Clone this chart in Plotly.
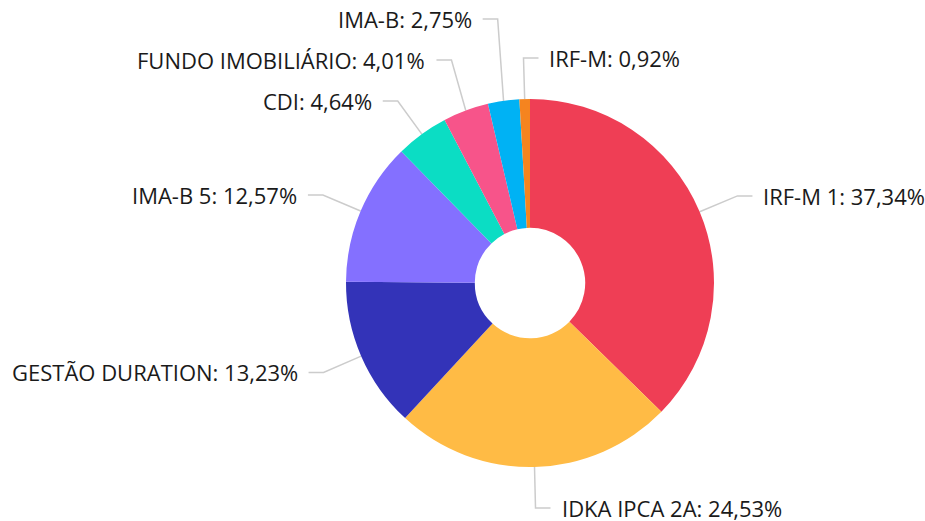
import math
import plotly.graph_objects as go

labels = ["IRF-M 1", "IDKA IPCA 2A", "GESTÃO DURATION", "IMA-B 5", "CDI",
          "FUNDO IMOBILIÁRIO", "IMA-B", "IRF-M"]
values = [37.34, 24.53, 13.23, 12.57, 4.64, 4.01, 2.75, 0.92]
colors = ["#EF3E55", "#FFBB45", "#3333B8", "#8470FF", "#0BDDC4",
          "#F7548A", "#00B2F4", "#F5841F"]

W, H = 925, 521
CX, CY, R = 530, 283, 184
HOLE = 0.30
BEND_R = R + 41
TICK = 15
GAP = 9
MIN_SPACING = 41
FONT = "Open Sans"
FSIZE = 22
LINE_COLOR = "#cccccc"


def fmt(v):
    return f"{v:.2f}".replace(".", ",") + "%"


def px(x):
    return x / W


def py(y):
    return 1 - y / H


fig = go.Figure()
fig.add_trace(go.Pie(
    labels=labels, values=values, sort=False, direction="clockwise",
    rotation=0, hole=HOLE, textinfo="none", hoverinfo="label+percent",
    marker=dict(colors=colors, line=dict(width=0)),
    domain=dict(x=[(CX - R) / W, (CX + R) / W], y=[1 - (CY + R) / H, 1 - (CY - R) / H]),
    showlegend=False,
))

total = sum(values)
items = []
cum = 0.0
for lab, v in zip(labels, values):
    mid = (cum + v / 2) / total * 2 * math.pi
    cum += v
    s, c = math.sin(mid), math.cos(mid)
    ex, ey = CX + R * s, CY - R * c
    bx, by = CX + BEND_R * s, CY - BEND_R * c
    side = "right" if s >= -0.05 else "left"
    items.append(dict(label=lab, v=v, ex=ex, ey=ey, bx=bx, by=by, side=side))

# resolve overlaps per side (push upward from bottom)
for side in ("left", "right"):
    grp = sorted([it for it in items if it["side"] == side], key=lambda d: -d["by"])
    prev = None
    for it in grp:
        if prev is not None and it["by"] > prev - MIN_SPACING:
            it["by"] = prev - MIN_SPACING
        prev = it["by"]

for it in items:
    sgn = 1 if it["side"] == "right" else -1
    x2 = it["bx"] + sgn * TICK
    fig.add_shape(type="path", xref="paper", yref="paper", layer="below",
                  path=f"M {px(it['ex'])} {py(it['ey'])} L {px(it['bx'])} {py(it['by'])} L {px(x2)} {py(it['by'])}",
                  line=dict(color=LINE_COLOR, width=1.5))
    fig.add_annotation(x=px(x2 + sgn * GAP), y=py(it["by"]), xref="paper", yref="paper",
                       text=f"{it['label']}: {fmt(it['v'])}", showarrow=False,
                       xanchor="left" if sgn > 0 else "right", yanchor="middle",
                       font=dict(family=FONT, size=FSIZE, color="#1a1a1a"))

fig.update_layout(width=W, height=H, margin=dict(l=0, r=0, t=0, b=0),
                  paper_bgcolor="white", plot_bgcolor="white",
                  font=dict(family=FONT, size=FSIZE))
fig.write_html("out.html", config={"displayModeBar": False},
               post_script="document.body.style.margin='0';document.body.style.overflow='hidden';")
